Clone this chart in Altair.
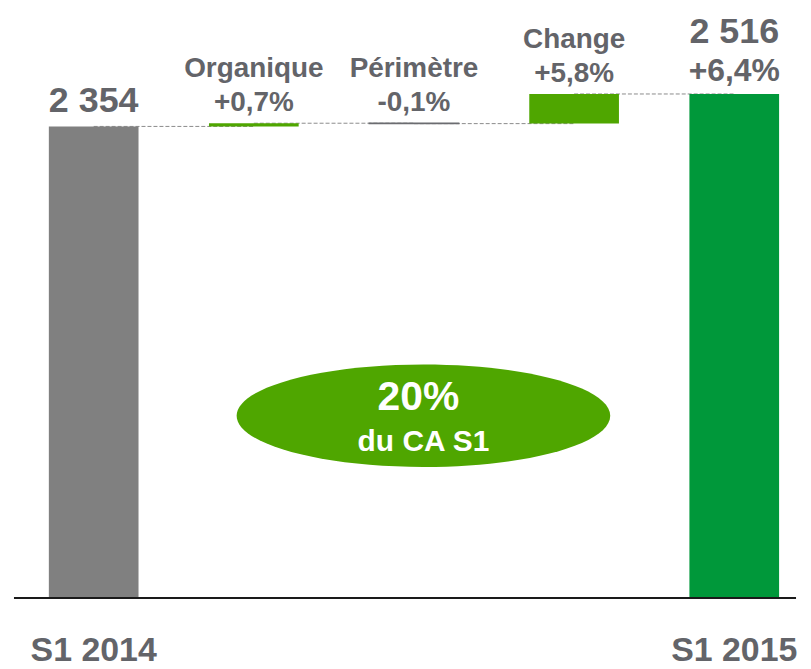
import altair as alt
import pandas as pd

# ---- data ----
categories = ["S1 2014", "Organique", "Périmètre", "Change", "S1 2015"]
bar_start = [0, 2354, 2370, 2368, 0]
bar_end = [2354, 2370, 2368, 2516, 2516]
step_names = ["", "Organique", "Périmètre", "Change", ""]
pct_labels = ["", "+0,7%", "-0,1%", "+5,8%", "+6,4%"]
total_labels = ["2 354", "", "", "", "2 516"]
bottom_labels = ["S1 2014", "", "", "", "S1 2015"]
bar_colors = ["#808080", "#4fa600", "#6b6c70", "#4fa600", "#00983a"]
bubble_big = ["20%"]
bubble_small = ["du CA S1"]

df = pd.DataFrame({
    "cat": categories,
    "start": bar_start,
    "end": bar_end,
    "top": [max(a, b) for a, b in zip(bar_start, bar_end)],
    "name": step_names,
    "pct": pct_labels,
    "total": total_labels,
    "bottom": bottom_labels,
})
rows = []
for i in range(len(categories) - 1):
    rows.append({"pair": i, "cat": categories[i], "level": bar_end[i]})
    rows.append({"pair": i, "cat": categories[i + 1], "level": bar_end[i]})
conn = pd.DataFrame(rows)

TXT = "#636469"
FONT = "Liberation Sans"

xs = alt.Scale(domain=categories, range=[35, 768], paddingInner=0.44, paddingOuter=0)
ys = alt.Scale(domain=[0, 2914], nice=False, zero=True)
X = alt.X("cat:N", scale=xs, axis=None)
col = alt.Color("cat:N", scale=alt.Scale(domain=categories, range=bar_colors), legend=None)

def Yf(field):
    return alt.Y(field, type="quantitative", scale=ys, axis=None)

connectors = alt.Chart(conn).mark_line(color="#8c8c8c", strokeDash=[4, 2], strokeWidth=1).encode(
    x=X, y=Yf("level"), detail="pair:N",
)

bars = alt.Chart(df).mark_bar().encode(
    x=X, y=Yf("start"), y2="end:Q", color=col,
)
thin_bar = alt.Chart(df).transform_filter("datum.cat == 'Périmètre'").mark_bar(
    color="#6b6c70", stroke="#6b6c70", strokeWidth=1.2
).encode(x=X, y=Yf("start"), y2="end:Q")

baseline = alt.Chart(df).transform_filter("datum.cat == 'S1 2014'").mark_rule(
    color="#1a1a1a", strokeWidth=2
).encode(y=alt.Y(datum=0, type="quantitative", scale=ys, axis=None),
         x=alt.value(0), x2=alt.value(785))

base_t = alt.Chart(df)
name_t = base_t.transform_filter("datum.name != ''").mark_text(
    font=FONT, fontWeight="bold", fontSize=28, color=TXT, baseline="alphabetic", dy=-46
).encode(x=X, y=Yf("top"), text="name:N")

pct_mid = base_t.transform_filter("datum.name != ''").mark_text(
    font=FONT, fontWeight="bold", fontSize=28, color=TXT, baseline="alphabetic", dy=-12
).encode(x=X, y=Yf("top"), text="pct:N")

pct_end = base_t.transform_filter("datum.cat == 'S1 2015'").mark_text(
    font=FONT, fontWeight="bold", fontSize=32, color=TXT, baseline="alphabetic", dy=-13
).encode(x=X, y=Yf("top"), text="pct:N")

tot_first = base_t.transform_filter("datum.cat == 'S1 2014'").mark_text(
    font=FONT, fontWeight="bold", fontSize=36, color=TXT, baseline="alphabetic", dy=-14
).encode(x=X, y=Yf("top"), text="total:N")

tot_last = base_t.transform_filter("datum.cat == 'S1 2015'").mark_text(
    font=FONT, fontWeight="bold", fontSize=36, color=TXT, baseline="alphabetic", dy=-51
).encode(x=X, y=Yf("top"), text="total:N")

bottom_t = base_t.transform_filter("datum.bottom != ''").mark_text(
    font=FONT, fontWeight="bold", fontSize=34, color=TXT, baseline="alphabetic"
).encode(x=X, y=alt.value(649), text="bottom:N")

bub = pd.DataFrame({"big": bubble_big, "small": bubble_small})
ellipse_path = ("M-1,0 C-1,-0.1517 -0.5523,-0.2747 0,-0.2747 "
                "C0.5523,-0.2747 1,-0.1517 1,0 "
                "C1,0.1517 0.5523,0.2747 0,0.2747 "
                "C-0.5523,0.2747 -1,0.1517 -1,0 Z")
ellipse = alt.Chart(bub).mark_point(
    shape=ellipse_path, size=375 * 375, filled=True, color="#4fa600", opacity=1
).encode(x=alt.value(411), y=alt.value(403))
big_t = alt.Chart(bub).mark_text(
    font=FONT, fontWeight="bold", fontSize=41, color="white", baseline="alphabetic"
).encode(x=alt.value(406), y=alt.value(397), text="big:N")
small_t = alt.Chart(bub).mark_text(
    font=FONT, fontWeight="bold", fontSize=30, color="white", baseline="alphabetic"
).encode(x=alt.value(411), y=alt.value(438), text="small:N")

chart = alt.layer(
    connectors, bars, thin_bar, baseline, name_t, pct_mid, pct_end, tot_first, tot_last,
    bottom_t, ellipse, big_t, small_t
).properties(
    width=785, height=586,
).configure_view(stroke=None)

chart.save("out.html", embed_options={"renderer": "svg", "actions": False})
